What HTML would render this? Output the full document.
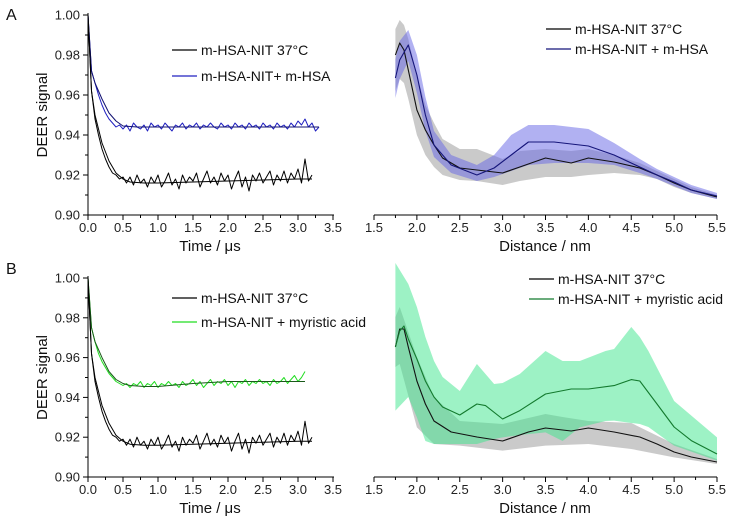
<!DOCTYPE html>
<html><head><meta charset="utf-8"><style>
html,body{margin:0;padding:0;background:#fff;}
svg{display:block;font-family:"Liberation Sans",sans-serif;}
</style></head><body>
<svg id="fig" width="733" height="528" viewBox="0 0 733 528"></svg>
<script>
// ---- time-domain data (step 0.05 us) ----
const timeStep = 0.05;
const blackTrace = [1.000,0.962,0.948,0.940,0.933,0.928,0.924,0.921,0.920,0.918,0.919,0.916,0.919,0.915,0.920,0.916,0.918,0.914,0.919,0.916,0.920,0.914,0.917,0.921,0.915,0.918,0.913,0.920,0.916,0.919,0.917,0.921,0.914,0.918,0.922,0.916,0.919,0.915,0.921,0.917,0.920,0.913,0.918,0.922,0.914,0.919,0.912,0.920,0.917,0.921,0.916,0.919,0.922,0.915,0.920,0.917,0.922,0.916,0.921,0.918,0.923,0.916,0.928,0.917,0.920];
const blueTrace = [1.000,0.972,0.966,0.960,0.955,0.951,0.948,0.946,0.944,0.945,0.943,0.945,0.942,0.946,0.944,0.943,0.945,0.942,0.946,0.944,0.945,0.943,0.946,0.944,0.942,0.945,0.944,0.946,0.943,0.945,0.944,0.946,0.943,0.945,0.944,0.946,0.944,0.943,0.946,0.944,0.945,0.943,0.946,0.944,0.945,0.943,0.946,0.944,0.945,0.943,0.946,0.944,0.945,0.943,0.946,0.944,0.945,0.943,0.946,0.944,0.947,0.945,0.948,0.944,0.946,0.942,0.944];
const greenTrace = [1.000,0.975,0.968,0.962,0.958,0.955,0.952,0.950,0.948,0.947,0.946,0.947,0.945,0.947,0.946,0.948,0.945,0.947,0.946,0.948,0.945,0.947,0.946,0.948,0.946,0.947,0.945,0.948,0.946,0.947,0.949,0.946,0.948,0.945,0.947,0.949,0.946,0.948,0.947,0.949,0.946,0.948,0.945,0.948,0.947,0.949,0.946,0.948,0.947,0.949,0.947,0.948,0.946,0.949,0.947,0.948,0.950,0.947,0.949,0.951,0.948,0.950,0.953];
const fitT = [0,0.05,0.1,0.2,0.3,0.4,0.5,0.6,0.8,1.0,1.5,2.0,2.5,3.0,3.2];
const blackFit = [1,0.962,0.950,0.936,0.927,0.921,0.918,0.9165,0.916,0.916,0.9165,0.917,0.9175,0.918,0.918];
const blueFitT = [0,0.05,0.1,0.2,0.3,0.4,0.5,0.7,1.0,2.0,3.3];
const blueFit = [1,0.972,0.966,0.958,0.951,0.947,0.9445,0.944,0.944,0.944,0.944];
const greenFitT = [0,0.05,0.1,0.2,0.3,0.4,0.5,0.6,0.8,1.0,1.5,2.0,2.5,3.1];
const greenFit = [1,0.975,0.968,0.960,0.953,0.949,0.947,0.946,0.9455,0.9455,0.947,0.948,0.948,0.948];
const yTicks = ["0.90","0.92","0.94","0.96","0.98","1.00"];
const tTicks = ["0.0","0.5","1.0","1.5","2.0","2.5","3.0","3.5"];
const rTicks = ["1.5","2.0","2.5","3.0","3.5","4.0","4.5","5.0","5.5"];
// ---- distance distributions (arbitrary units) ----
const rA = [1.75,1.8,1.85,1.9,2.0,2.1,2.2,2.3,2.5,2.7,3.0,3.2,3.5,3.8,4.0,4.3,4.6,4.8,5.0,5.2,5.5];
const blackA = [0.80,0.86,0.825,0.725,0.525,0.425,0.35,0.285,0.235,0.225,0.21,0.24,0.285,0.26,0.285,0.265,0.235,0.20,0.16,0.125,0.09];
const blackAUp = [0.93,0.975,0.95,0.88,0.70,0.55,0.46,0.38,0.33,0.33,0.28,0.32,0.33,0.32,0.33,0.30,0.26,0.22,0.18,0.14,0.10];
const blackALo = [0.62,0.68,0.66,0.58,0.40,0.30,0.24,0.20,0.175,0.17,0.15,0.17,0.19,0.19,0.20,0.21,0.20,0.18,0.14,0.11,0.08];
const rA2 = [1.75,1.8,1.9,2.0,2.1,2.2,2.4,2.7,2.9,3.1,3.3,3.6,4.0,4.3,4.6,4.8,5.0,5.2,5.5];
const blueA = [0.685,0.775,0.85,0.70,0.50,0.35,0.25,0.20,0.235,0.30,0.365,0.365,0.345,0.30,0.24,0.20,0.165,0.125,0.095];
const blueAUp = [0.78,0.87,0.925,0.80,0.59,0.42,0.30,0.25,0.30,0.40,0.45,0.45,0.43,0.36,0.28,0.23,0.19,0.15,0.11];
const blueALo = [0.585,0.68,0.77,0.61,0.42,0.29,0.21,0.17,0.19,0.22,0.25,0.26,0.26,0.25,0.21,0.18,0.145,0.11,0.08];
const rB = [1.75,1.8,1.85,1.9,2.0,2.1,2.2,2.4,2.7,3.0,3.3,3.5,3.8,4.0,4.3,4.6,4.8,5.0,5.2,5.5];
const blackB = [0.65,0.74,0.74,0.65,0.48,0.365,0.28,0.225,0.20,0.18,0.225,0.245,0.23,0.245,0.225,0.20,0.165,0.125,0.10,0.075];
const rBand = [1.75,1.8,2.0,2.2,2.5,3.0,3.5,3.7,4.0,4.5,5.0,5.5];
const grayBUp = [0.80,0.85,0.60,0.40,0.28,0.265,0.315,0.30,0.28,0.27,0.165,0.09];
const grayBLo = [0.55,0.565,0.248,0.165,0.157,0.132,0.157,0.16,0.165,0.14,0.098,0.065];
const rG = [1.75,1.8,1.85,1.9,2.0,2.1,2.2,2.3,2.5,2.7,2.8,3.0,3.2,3.5,3.8,4.0,4.3,4.5,4.6,4.8,5.0,5.2,5.5];
const greenB = [0.65,0.73,0.755,0.69,0.59,0.48,0.40,0.35,0.31,0.365,0.357,0.29,0.332,0.415,0.44,0.44,0.457,0.487,0.48,0.365,0.25,0.182,0.115];
const rGBand = [1.75,1.9,2.0,2.1,2.2,2.3,2.5,2.7,2.9,3.0,3.2,3.5,3.7,3.9,4.2,4.3,4.5,4.6,4.7,5.0,5.5];
const greenBUp = [1.07,0.965,0.85,0.70,0.58,0.50,0.43,0.565,0.465,0.47,0.515,0.63,0.58,0.58,0.63,0.64,0.75,0.70,0.63,0.38,0.198];
const greenBLo = [0.332,0.40,0.298,0.18,0.165,0.165,0.165,0.165,0.19,0.198,0.21,0.223,0.18,0.248,0.28,0.282,0.27,0.265,0.25,0.157,0.082];

const NS='http://www.w3.org/2000/svg';
const svg=document.getElementById('fig');
function el(tag,attrs,parent){const e=document.createElementNS(NS,tag);for(const k in attrs)e.setAttribute(k,attrs[k]);(parent||svg).appendChild(e);return e;}
function txt(s,attrs,parent){const e=el('text',attrs,parent);e.textContent=s;return e;}

function timePanel(g,top,bottom,series,name){
  const x=t=>88+t*(333-88)/3.5;
  const y=v=>bottom-(v-0.90)/0.10*(bottom-top);
  el('line',{x1:88,y1:top-2,x2:88,y2:bottom,stroke:'#000','stroke-width':1},g);
  el('line',{x1:88,y1:bottom,x2:334,y2:bottom,stroke:'#000','stroke-width':1},g);
  for(let i=0;i<=10;i++){const yy=y(0.90+i*0.01);el('line',{x1:88,y1:yy,x2:i%2?85:83,y2:yy,stroke:'#000'},g);}
  yTicks.forEach((s,i)=>{const t=txt(s,{x:80,y:y(parseFloat(s))+4.5,'text-anchor':'end','font-size':13,fill:'#222'},g);});
  for(let i=0;i<=14;i++){const xx=x(i*0.25);el('line',{x1:xx,y1:bottom,x2:xx,y2:bottom+(i%2?3:5),stroke:'#000'},g);}
  tTicks.forEach(s=>{const t=txt(s,{x:x(parseFloat(s)),y:bottom+17,'text-anchor':'middle','font-size':13,fill:'#222'},g);});
  const xl=txt('Time / μs',{x:210,y:bottom+36,'text-anchor':'middle','font-size':15,fill:'#111'},g);
  
  const yl=txt('DEER signal',{x:0,y:0,'text-anchor':'middle','font-size':15,fill:'#111',transform:`translate(47,${(top+bottom)/2}) rotate(-90)`},g);
  
  series.forEach(s=>{
    let d='';
    if(s.ts){s.vals.forEach((v,i)=>{d+=(i?'L':'M')+x(s.ts[i]).toFixed(1)+','+y(v).toFixed(1);});}
    else{s.vals.forEach((v,i)=>{d+=(i?'L':'M')+x(i*timeStep).toFixed(1)+','+y(v).toFixed(1);});}
    const p=el('path',{d:d,fill:'none',stroke:s.color,'stroke-width':s.w||1,'stroke-linejoin':'round'},g);
    
    
  });
}
function distPanel(g,axisY,bands,lines){
  const x=r=>374+(r-1.5)*(717-374)/4.0;
  const y=v=>axisY-v*200;
  bands.forEach(b=>{
    let d='';
    b.r.forEach((r,i)=>{d+=(i?'L':'M')+x(r).toFixed(1)+','+Math.max(y(b.up[i]),axisY-225).toFixed(1);});
    for(let i=b.r.length-1;i>=0;i--)d+='L'+x(b.r[i]).toFixed(1)+','+y(b.lo[i]).toFixed(1);
    const p=el('path',{d:d+'Z',fill:b.color,'fill-opacity':b.op,stroke:'none'},g);
    
    
  });
  lines.forEach(s=>{
    let d='';s.vals.forEach((v,i)=>{d+=(i?'L':'M')+x(s.r[i]).toFixed(1)+','+y(v).toFixed(1);});
    const p=el('path',{d:d,fill:'none',stroke:s.color,'stroke-width':1.1,'stroke-linejoin':'round'},g);
    
    
  });
  el('line',{x1:374,y1:axisY,x2:717,y2:axisY,stroke:'#000'},g);
  for(let i=0;i<=16;i++){const xx=x(1.5+i*0.25);el('line',{x1:xx,y1:axisY,x2:xx,y2:axisY+(i%2?3:5),stroke:'#000'},g);}
  rTicks.forEach(s=>{const t=txt(s,{x:x(parseFloat(s)),y:axisY+17,'text-anchor':'middle','font-size':13,fill:'#222'},g);});
  const xl=txt('Distance / nm',{x:545,y:axisY+36,'text-anchor':'middle','font-size':15,fill:'#111'},g);
  
}
function legend(g,x0,y0,dy,items){
  items.forEach((it,i)=>{
    const gg=el('g',{},g);
    
    
    el('line',{x1:x0,y1:y0+i*dy,x2:x0+25,y2:y0+i*dy,stroke:it.color,'stroke-width':1.3},gg);
    txt(it.label,{x:x0+29,y:y0+i*dy+5,'font-size':14,fill:'#111'},gg);
  });
}

// Panel A left
const gA=el('g',{});
timePanel(gA,15,215,[
  {vals:blueTrace,color:'#2020c0',name:'blue-trace'},
  {ts:blueFitT,vals:blueFit,color:'#101070',name:'blue-fit'},
  {vals:blackTrace,color:'#000',name:'black-trace'},
  {ts:fitT,vals:blackFit,color:'#000',name:'black-fit'}],'a');
legend(gA,172,50,26,[{color:'#000',label:'m-HSA-NIT 37°C'},{color:'#2020c0',label:'m-HSA-NIT+ m-HSA'}]);
// Panel A right
const gA2=el('g',{});
distPanel(gA2,215,[
  {r:rA,up:blackAUp,lo:blackALo,color:'#b4b4b4',op:0.7,name:'black-uncertainty-band'},
  {r:rA2,up:blueAUp,lo:blueALo,color:'#6464e6',op:0.5,name:'blue-uncertainty-band'}],
  [{r:rA,vals:blackA,color:'#111',name:'black-distribution'},{r:rA2,vals:blueA,color:'#15157a',name:'blue-distribution'}]);
legend(gA2,546,29,20,[{color:'#000',label:'m-HSA-NIT 37°C'},{color:'#15157a',label:'m-HSA-NIT + m-HSA'}]);
// Panel B left
const gB=el('g',{});
timePanel(gB,278,477,[
  {vals:greenTrace,color:'#22dd22',name:'green-trace'},
  {ts:greenFitT,vals:greenFit,color:'#1a5a1a',name:'green-fit'},
  {vals:blackTrace,color:'#000',name:'black-trace'},
  {ts:fitT,vals:blackFit,color:'#000',name:'black-fit'}],'b');
legend(gB,172,298,24,[{color:'#000',label:'m-HSA-NIT 37°C'},{color:'#22dd22',label:'m-HSA-NIT + myristic acid'}]);
// Panel B right
const gB2=el('g',{});
distPanel(gB2,477,[
  {r:rBand,up:grayBUp,lo:grayBLo,color:'#b4b4b4',op:0.7,name:'black-uncertainty-band'},
  {r:rGBand,up:greenBUp,lo:greenBLo,color:'#3ce68c',op:0.5,name:'green-uncertainty-band'}],
  [{r:rB,vals:blackB,color:'#111',name:'black-distribution'},{r:rG,vals:greenB,color:'#137a2e',name:'green-distribution'}]);
legend(gB2,529,279,20,[{color:'#000',label:'m-HSA-NIT 37°C'},{color:'#137a2e',label:'m-HSA-NIT + myristic acid'}]);

const la=txt('A',{x:6,y:20,'font-size':16,fill:'#111'});
const lb=txt('B',{x:6,y:274,'font-size':16,fill:'#111'});
</script>
</body></html>
